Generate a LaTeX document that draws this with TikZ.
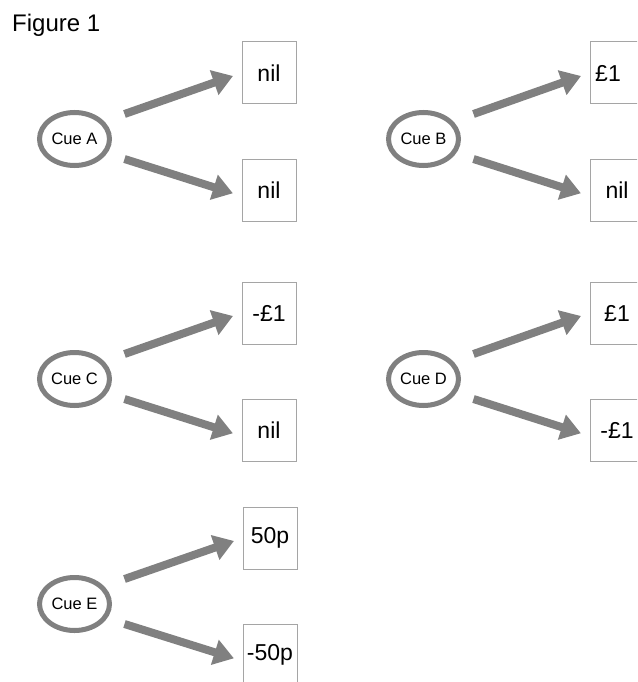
\documentclass[tikz,border=0pt]{standalone}
\usepackage{fontspec}
\setmainfont{Liberation Sans}
\usetikzlibrary{arrows.meta,shapes.geometric}
\definecolor{arrowgray}{RGB}{128,128,128}
\definecolor{boxgray}{RGB}{165,165,165}
\tikzset{
  cue/.style={ellipse, draw=arrowgray, line width=5pt, minimum width=70pt, minimum height=53pt, inner sep=0pt, font=\fontsize{16.5pt}{19pt}\selectfont},
  outcome/.style={rectangle, draw=boxgray, line width=1pt, minimum width=54pt, minimum height=62pt, inner sep=0pt, font=\fontsize{23pt}{27pt}\selectfont},
  flow/.style={draw=arrowgray, line width=8pt, -{Triangle[length=20pt,width=25pt]}},
  title/.style={font=\fontsize{24pt}{28pt}\selectfont, anchor=base west, inner sep=0pt}
}
% #1 id, #2 cx, #3 cy, #4 box cx, #5 top text, #6 bottom text
\newcommand\cuegroup[6]{%
  \node[cue] (cue#1) at (#2,#3) {Cue #1};
  \node[outcome] (top#1) at (#4,#3-66) {#5};
  \node[outcome] (bot#1) at (#4,#3+51) {#6};
  \draw[flow, shorten >=9pt] ([shift={(50,-25)}]cue#1.center) -- (top#1.west);
  \draw[flow, shorten >=9pt] ([shift={(50,20)}]cue#1.center) -- ([shift={(0,6)}]bot#1.west);
}
\begin{document}
\begin{tikzpicture}[x=1pt,y=-1pt]
  \useasboundingbox (0,0) rectangle (637,682);
  \clip (0,0) rectangle (637,682);
  \fill[white] (0,0) rectangle (637,682);
  \node[title] (fig) at (12,32) {Figure 1};
  \cuegroup{A}{74.5}{139}{269}{nil}{nil}
  \cuegroup{B}{423.5}{139}{617}{\hspace*{-18pt}£1}{nil}
  \cuegroup{C}{74.5}{379}{269}{-£1}{nil}
  \cuegroup{D}{423.5}{379}{617}{£1}{-£1}
  \cuegroup{E}{74.5}{604}{270}{50p}{-50p}
\end{tikzpicture}
\end{document}
